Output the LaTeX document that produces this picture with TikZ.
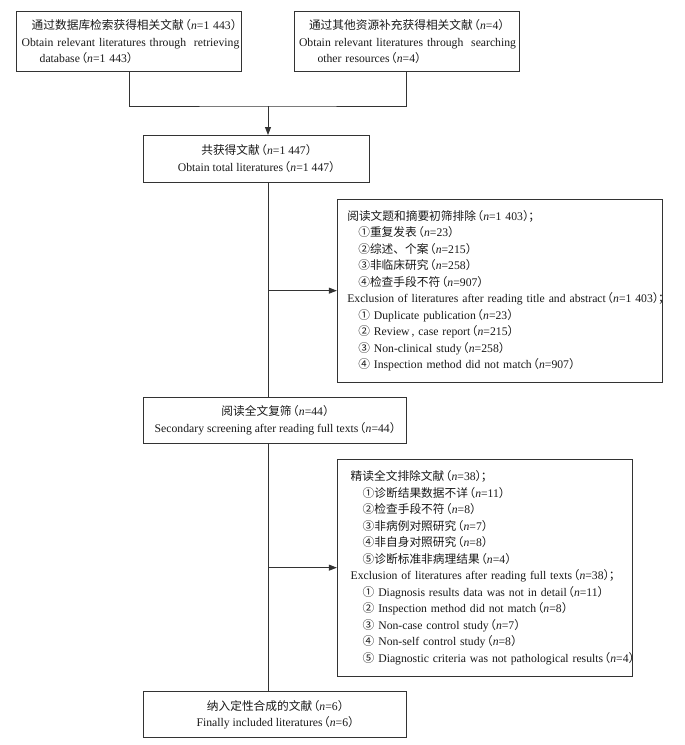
\documentclass[tikz,border=0pt]{standalone}
\usepackage{fontspec}
\setmainfont{Liberation Serif}
\newfontfamily\cjk{Noto Sans CJK SC}
\usetikzlibrary{arrows.meta}
\newcommand\nvar{\textit{n}}
\newcommand\zh[1]{{\cjk #1}}
\newcommand\flp{\makebox[0.62em][r]{\cjk （}}
\newcommand\frp{\makebox[0.45em][l]{\cjk ）}}
\newcommand\fsc{\makebox[0.5em][l]{\cjk ；}}
\tikzset{
  box/.style={draw=black!80, line width=0.9pt, inner ysep=0pt, text=black!90,
    font=\fontsize{11.7}{16.5}\selectfont},
  cbox/.style={box, align=center, inner xsep=4pt},
  lbox/.style={box, align=left},
  conn/.style={draw=black!80, line width=0.9pt},
  arr/.style={conn, -{Triangle[length=8pt,width=6pt]}},
}
\begin{document}
\begin{tikzpicture}[x=1pt,y=-1pt]
\useasboundingbox (0,0) rectangle (685,745);

\node[lbox, inner xsep=5pt, text width=215pt, minimum width=225pt, minimum height=60pt] (b1) at (129.2,41.7)
 {\hspace*{10pt}\mbox{\zh{通过数据库检索获得相关文献}\flp\nvar=1 443\frp}\\
  \mbox{Obtain relevant literatures through\ \ retrieving}\\
  \hspace*{18pt}\mbox{database\flp\nvar=1 443\frp}};

\node[lbox, inner xsep=5pt, text width=215pt, minimum width=225pt, minimum height=60pt] (b2) at (406.5,41.7)
 {\hspace*{10pt}\mbox{\zh{通过其他资源补充获得相关文献}\flp\nvar=4\frp}\\
  \mbox{Obtain relevant literatures through\ \ searching}\\
  \hspace*{18.5pt}\mbox{other resources\flp\nvar=4\frp}};

\node[cbox, minimum width=225.7pt, minimum height=46.5pt] (b3) at (256.2,158.7)
 {\zh{共获得文献}\flp\nvar=1 447\frp\\
  Obtain total literatures\flp\nvar=1 447\frp};

\node[lbox, inner xsep=10pt, text width=305pt, minimum width=325pt, minimum height=182.7pt] (e1) at (499.8,290.65)
 {\mbox{\zh{阅读文题和摘要初筛排除}\flp\nvar=1 403\frp\fsc}\\
  \hspace*{11pt}\mbox{\zh{①重复发表}\flp\nvar=23\frp}\\
  \hspace*{11pt}\mbox{\zh{②综述、个案}\flp\nvar=215\frp}\\
  \hspace*{11pt}\mbox{\zh{③非临床研究}\flp\nvar=258\frp}\\
  \hspace*{11pt}\mbox{\zh{④检查手段不符}\flp\nvar=907\frp}\\
  \mbox{Exclusion of literatures after reading title and abstract\flp\nvar=1 403\frp\fsc}\\
  \hspace*{11pt}\mbox{\zh{①} Duplicate publication\flp\nvar=23\frp}\\
  \hspace*{11pt}\mbox{\zh{②} Review\,, case report\flp\nvar=215\frp}\\
  \hspace*{11pt}\mbox{\zh{③} Non-clinical study\flp\nvar=258\frp}\\
  \hspace*{11pt}\mbox{\zh{④} Inspection method did not match\flp\nvar=907\frp}};

\node[cbox, minimum width=263.2pt, minimum height=46.3pt] (b4) at (274.9,420.2)
 {\zh{阅读全文复筛}\flp\nvar=44\frp\\
  Secondary screening after reading full texts\flp\nvar=44\frp};

\node[lbox, inner xsep=13.4pt, text width=268.6pt, minimum width=295.4pt, minimum height=216.7pt] (e2) at (485,567.65)
 {\mbox{\zh{精读全文排除文献}\flp\nvar=38\frp\fsc}\\
  \hspace*{12pt}\mbox{\zh{①诊断结果数据不详}\flp\nvar=11\frp}\\
  \hspace*{12pt}\mbox{\zh{②检查手段不符}\flp\nvar=8\frp}\\
  \hspace*{12pt}\mbox{\zh{③非病例对照研究}\flp\nvar=7\frp}\\
  \hspace*{12pt}\mbox{\zh{④非自身对照研究}\flp\nvar=8\frp}\\
  \hspace*{12pt}\mbox{\zh{⑤诊断标准非病理结果}\flp\nvar=4\frp}\\
  \mbox{Exclusion of literatures after reading full texts\flp\nvar=38\frp\fsc}\\
  \hspace*{12pt}\mbox{\zh{①} Diagnosis results data was not in detail\flp\nvar=11\frp}\\
  \hspace*{12pt}\mbox{\zh{②} Inspection method did not match\flp\nvar=8\frp}\\
  \hspace*{12pt}\mbox{\zh{③} Non-case control study\flp\nvar=7\frp}\\
  \hspace*{12pt}\mbox{\zh{④} Non-self control study\flp\nvar=8\frp}\\
  \hspace*{12pt}\mbox{\zh{⑤} Diagnostic criteria was not pathological results\flp\nvar=4\frp}};

\node[cbox, minimum width=263.4pt, minimum height=45.6pt] (b5) at (275,714.5)
 {\zh{纳入定性合成的文献}\flp\nvar=6\frp\\
  Finally included literatures\flp\nvar=6\frp};

\coordinate (m) at (268,106);
\coordinate (j1) at (268,290.65);
\coordinate (j2) at (268,567.65);

\draw[conn] (b1.south) |- (m) -| (b2.south);
\draw[arr] (m) -- (m |- b3.north);
\draw[conn] (m |- b3.south) -- (m |- b4.north);
\draw[arr] (j1) -- (e1.west);
\draw[conn] (m |- b4.south) -- (m |- b5.north);
\draw[arr] (j2) -- (e2.west);
\end{tikzpicture}
\end{document}
